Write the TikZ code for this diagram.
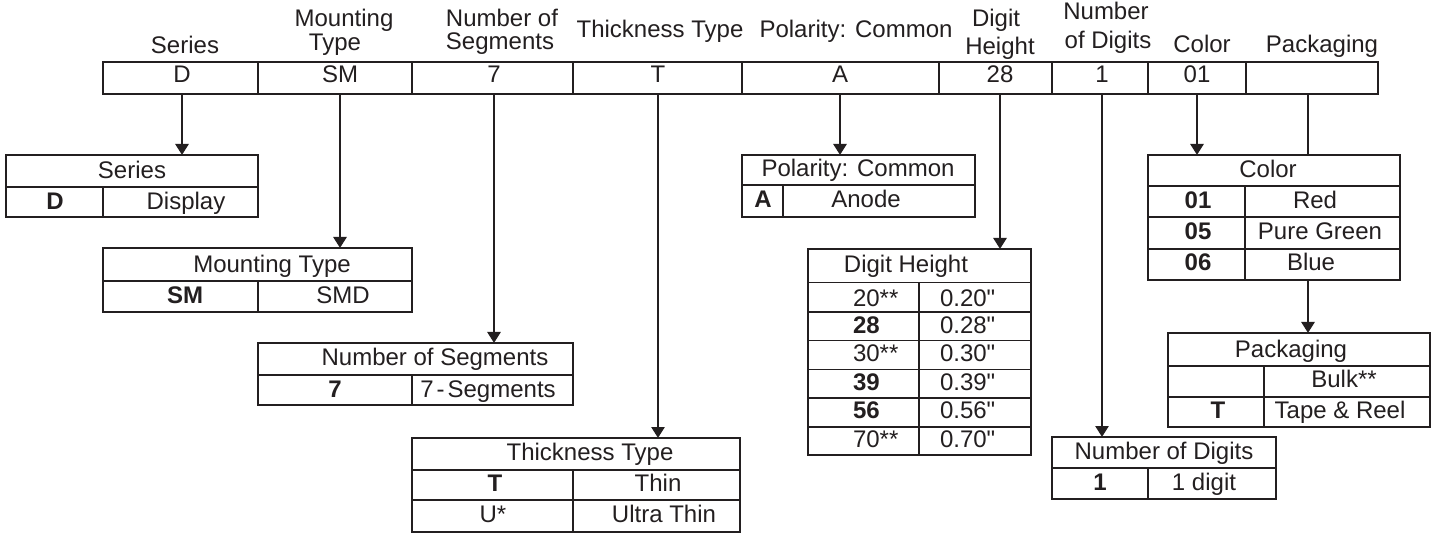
\documentclass[tikz,border=0pt]{standalone}
\usepackage{fontspec}
\setmainfont{Liberation Sans}[Ligatures=TeXOff]
\usetikzlibrary{arrows.meta}
\definecolor{inkc}{HTML}{231F20}
\begin{document}
\begin{tikzpicture}[x=1pt,y=-1pt,
  ink/.style={draw=inkc, line width=1.3pt},
  tbl/.style={draw=inkc, line width=1.3pt, inner sep=0pt, outer sep=0pt, rectangle},
  arr/.style={draw=inkc, line width=2.6pt, -{Triangle[length=11pt,width=13pt]}},
  plainline/.style={draw=inkc, line width=2.6pt},
  txt/.style={anchor=base, inner sep=0pt, outer sep=0pt, text=inkc, font=\fontsize{24}{28}\selectfont},
  btxt/.style={txt, font=\fontsize{24}{28}\selectfont\bfseries},
  ltxt/.style={txt, anchor=base west},
  lbtxt/.style={btxt, anchor=base west}]
\useasboundingbox (0,0) rectangle (1445,534);
\fill[white] (0,0) rectangle (1445,534);

% ---- top code row ----
\node[tbl, minimum width=1275pt, minimum height=32pt] (code) at (740.5,78) {};
\foreach \x in {258,412,573,742,939,1052,1148,1246}
  \draw[ink] (\x,62) -- (\x,94);

% header labels
\node[txt] (hSer)  at (185,54) {Series};
\node[txt] (hMnt1) at (344,27) {Mounting};
\node[txt] (hMnt2) at (335,51) {Type};
\node[txt] (hSeg1) at (502,27) {Number of};
\node[txt] (hSeg2) at (500,50) {Segments};
\node[txt] (hThk)  at (660,38) {Thickness Type};
\node[txt] (hPol)  at (856,38) {Polarity: Common};
\node[txt] (hDig1) at (996,27) {Digit};
\node[txt] (hDig2) at (1000,55) {Height};
\node[txt] (hNum1) at (1106,20) {Number};
\node[txt] (hNum2) at (1108,49) {of Digits};
\node[txt] (hCol)  at (1202,53) {Color};
\node[txt] (hPak)  at (1322,53) {Packaging};

% code values
\node[txt] (vD)  at (182,83) {D};
\node[txt] (vSM) at (340,83) {SM};
\node[txt] (v7)  at (494,83) {7};
\node[txt] (vT)  at (658,83) {T};
\node[txt] (vA)  at (840,83) {A};
\node[txt] (v28) at (1000,83) {28};
\node[txt] (v1)  at (1102,83) {1};
\node[txt] (v01) at (1197,83) {01};
\coordinate (vP) at (1308,83);

% ---- Series table ----
\node[tbl, minimum width=252pt, minimum height=62pt] (tSer) at (132,186) {};
\draw[ink] (6,187) -- (258,187);
\draw[ink] (103,187) -- (103,217);
\node[txt]  (tSerH) at (132,179) {Series};
\node[btxt] (tSer1) at (55,210) {D};
\node[txt]  (tSer2) at (186,210) {Display};

% ---- Mounting Type table ----
\node[tbl, minimum width=309pt, minimum height=64pt] (tMnt) at (257.5,280) {};
\draw[ink] (103,281) -- (412,281);
\draw[ink] (258,281) -- (258,312);
\node[txt]  (tMntH) at (272,273) {Mounting Type};
\node[btxt] (tMnt1) at (185,304) {SM};
\node[txt]  (tMnt2) at (343,304) {SMD};

% ---- Number of Segments table ----
\node[tbl, minimum width=315pt, minimum height=62pt] (tSeg) at (415.5,374) {};
\draw[ink] (258,375) -- (573,375);
\draw[ink] (412,375) -- (412,405);
\node[txt]  (tSegH) at (435,366) {Number of Segments};
\node[btxt] (tSeg1) at (335,397) {7};
\node[txt]  (tSeg2) at (488,397) {7\kern3pt-\kern3pt Segments};

% ---- Thickness Type table ----
\node[tbl, minimum width=328pt, minimum height=94pt] (tThk) at (576,485) {};
\draw[ink] (412,470) -- (740,470);
\draw[ink] (412,500) -- (740,500);
\draw[ink] (573,470) -- (573,532);
\node[txt]  (tThkH) at (590,460) {Thickness Type};
\node[btxt] (tThk1) at (495,491) {T};
\node[txt]  (tThk2) at (658,491) {Thin};
\node[txt]  (tThk3) at (493,522) {U*};
\node[txt]  (tThk4) at (664,522) {Ultra Thin};

% ---- Polarity table ----
\node[tbl, minimum width=233pt, minimum height=62pt] (tPol) at (858.5,186) {};
\draw[ink] (742,185) -- (975,185);
\draw[ink] (783,185) -- (783,217);
\node[txt]  (tPolH) at (858,177) {Polarity: Common};
\node[btxt] (tPol1) at (763,208) {A};
\node[txt]  (tPol2) at (866,208) {Anode};

% ---- Digit Height table ----
\node[tbl, minimum width=223pt, minimum height=206pt] (tDig) at (919.5,352) {};
\foreach \y in {282.5,312,340.5,369.5,398,427}
  \draw[ink] (808,\y) -- (1031,\y);
\draw[ink] (919,282.5) -- (919,455);
\node[txt]   (tDigH) at (906,273) {Digit Height};
\node[ltxt]  (tDa1) at (853,307) {20**};
\node[ltxt]  (tDa2) at (940,307) {0.20"};
\node[lbtxt] (tDb1) at (853,334) {28};
\node[ltxt]  (tDb2) at (940,334) {0.28"};
\node[ltxt]  (tDc1) at (853,362) {30**};
\node[ltxt]  (tDc2) at (940,362) {0.30"};
\node[lbtxt] (tDd1) at (853,390) {39};
\node[ltxt]  (tDd2) at (940,390) {0.39"};
\node[lbtxt] (tDe1) at (853,418) {56};
\node[ltxt]  (tDe2) at (940,418) {0.56"};
\node[ltxt]  (tDf1) at (853,447) {70**};
\node[ltxt]  (tDf2) at (940,447) {0.70"};

% ---- Color table ----
\node[tbl, minimum width=252pt, minimum height=125pt] (tCol) at (1274,217.5) {};
\foreach \y in {186,217,249}
  \draw[ink] (1148,\y) -- (1400,\y);
\draw[ink] (1245,186) -- (1245,280);
\node[txt]  (tColH) at (1268,178) {Color};
\node[btxt] (tCa1) at (1198,209) {01};
\node[txt]  (tCa2) at (1315,209) {Red};
\node[btxt] (tCb1) at (1198,240) {05};
\node[txt]  (tCb2) at (1320,240) {Pure Green};
\node[btxt] (tCc1) at (1198,271) {06};
\node[txt]  (tCc2) at (1311,271) {Blue};

% ---- Packaging table ----
\node[tbl, minimum width=262pt, minimum height=94pt] (tPak) at (1299,380) {};
\draw[ink] (1168,366) -- (1430,366);
\draw[ink] (1168,397) -- (1430,397);
\draw[ink] (1264,366) -- (1264,427);
\node[txt]  (tPakH) at (1291,357) {Packaging};
\node[txt]  (tPa2) at (1344,387) {Bulk**};
\node[btxt] (tPb1) at (1218,418) {T};
\node[txt]  (tPb2) at (1340,418) {Tape \& Reel};

% ---- Number of Digits table ----
\node[tbl, minimum width=224pt, minimum height=62pt] (tNum) at (1164,468) {};
\draw[ink] (1052,468) -- (1276,468);
\draw[ink] (1148,468) -- (1148,499);
\node[txt]  (tNumH) at (1164,459) {Number of Digits};
\node[btxt] (tNum1) at (1100,490) {1};
\node[txt]  (tNum2) at (1204,490) {1 digit};

% ---- connectors ----
\draw[arr] (vD  |- code.south) -- (vD  |- tSer.north);
\draw[arr] (vSM |- code.south) -- (vSM |- tMnt.north);
\draw[arr] (v7  |- code.south) -- (v7  |- tSeg.north);
\draw[arr] (vT  |- code.south) -- (vT  |- tThk.north);
\draw[arr] (vA  |- code.south) -- (vA  |- tPol.north);
\draw[arr] (v28 |- code.south) -- (v28 |- tDig.north);
\draw[arr] (v1  |- code.south) -- (v1  |- tNum.north);
\draw[arr] (v01 |- code.south) -- (v01 |- tCol.north);
\draw[plainline] (vP |- code.south) -- (vP |- tCol.north);
\draw[arr] (vP |- tCol.south) -- (vP |- tPak.north);
\end{tikzpicture}
\end{document}
